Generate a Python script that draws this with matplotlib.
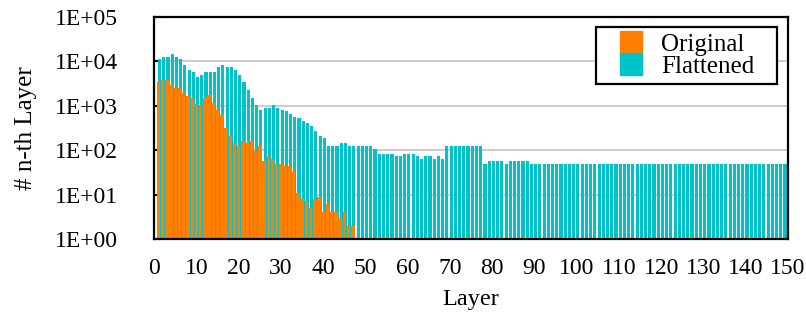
import numpy as np
import matplotlib.pyplot as plt
from matplotlib.lines import Line2D
from matplotlib.ticker import FixedLocator, FixedFormatter, LogLocator, NullFormatter

# layer index 1..150
layers = np.arange(1, 151)

# number of n-th layers, original graph (no bars after layer 47)
original = [3380, 3720, 3720, 2880, 2580, 2580, 1900, 1700, 1470, 1120,
            1040, 1480, 1730, 1150, 800, 615, 310, 205, 144, 123,
            159, 143, 159, 95, 123, 56, 73, 62, 48, 48,
            43, 43, 33, 11, 8, 7, 5, 8, 9, 4,
            6, 4, 4, 3, 4, 2, 2]

# number of n-th layers after flattening
flattened = [11100, 12300, 12300, 14400, 12300, 11100, 8100, 6300, 5660, 4400,
             4900, 5700, 5700, 5700, 7500, 8200, 7500, 7500, 6400, 4900,
             3450, 2270, 1490, 1040, 800, 890, 890, 1040, 880, 800,
             750, 640, 550, 520, 460, 410, 355, 272, 208, 188,
             123, 123, 123, 144, 144, 123, 123, 123, 123, 123,
             123, 105, 81, 81, 81, 81, 74, 74, 81, 81,
             81, 74, 63, 74, 74, 63, 74, 63, 123, 123,
             123, 123, 123, 123, 123, 123, 123, 48, 57, 57,
             57, 57, 48, 57, 57, 57, 57, 57, 48, 48,
             48, 48, 48, 48, 48, 48, 48, 48, 48, 48,
             48, 48, 48, 48, 48, 48, 48, 48, 48, 48,
             48, 48, 48, 48, 48, 48, 48, 48, 48, 48,
             48, 48, 48, 48, 48, 48, 48, 48, 48, 48,
             48, 48, 48, 48, 48, 48, 48, 48, 48, 48,
             48, 48, 48, 48, 48, 48, 48, 48, 48, 48]

yticks = [1, 10, 100, 1000, 10000, 100000]
ytick_labels = ['1E+00', '1E+01', '1E+02', '1E+03', '1E+04', '1E+05']
xticks = np.arange(0, 151, 10)

ORANGE = '#ff7f00'
TEAL = '#00c2c9'

plt.rcParams['font.family'] = ['Liberation Serif', 'DejaVu Serif']
plt.rcParams['font.size'] = 17

fig = plt.figure(figsize=(8.06, 3.2), dpi=100)
ax = fig.add_axes([154 / 806, 81 / 320, 634 / 806, 222 / 320])

# flattened drawn behind, shifted a bit to the right; original in front
ax.bar(layers + 0.3, flattened, width=0.74, color=TEAL, zorder=2)
ax.bar(layers[:len(original)] + 0.05, original, width=0.8, color=ORANGE, zorder=3)

ax.set_yscale('log')
ax.set_ylim(1, 1e5)
ax.set_xlim(0, 150)
ax.yaxis.set_major_locator(FixedLocator(yticks))
ax.yaxis.set_major_formatter(FixedFormatter(ytick_labels))
ax.yaxis.set_minor_locator(LogLocator(base=10, subs=np.arange(2, 10)))
ax.yaxis.set_minor_formatter(NullFormatter())
ax.set_xticks(xticks)

ax.grid(axis='y', which='major', color='#c8c8c8', linewidth=1.3, zorder=0)
ax.grid(axis='y', which='minor', color='#d4d4d4', linestyle=(0, (1, 1.5)), linewidth=0.8, zorder=0)
ax.set_axisbelow(True)

for s in ax.spines.values():
    s.set_linewidth(1.6)
    s.set_color('black')
    s.set_zorder(5)

ax.tick_params(axis='y', which='major', direction='in', length=5, width=1.5, pad=26)
ax.tick_params(axis='y', which='minor', length=0)
ax.tick_params(axis='x', direction='in', length=0, pad=14)

ax.set_xlabel('Layer', fontsize=17.5)
ax.xaxis.set_label_coords(0.5, -0.225)
ax.set_ylabel('# n-th Layer', fontsize=18)
ax.yaxis.set_label_coords(-0.185, 0.5)

handles = [Line2D([], [], linestyle='none', marker='s', markersize=16, color=ORANGE),
           Line2D([], [], linestyle='none', marker='s', markersize=16, color=TEAL)]
leg = ax.legend(handles, ['Original', 'Flattened'], loc='upper left',
                bbox_to_anchor=(0.697, 0.655, 0.2855, 0.3), mode='expand',
                fancybox=False, framealpha=1, edgecolor='black', fontsize=18,
                borderpad=0.25, labelspacing=0.0, handlelength=2.3,
                handletextpad=0.05, borderaxespad=0)
leg.get_frame().set_linewidth(1.6)
leg.set_zorder(6)

fig.savefig('out.png', dpi=100)
